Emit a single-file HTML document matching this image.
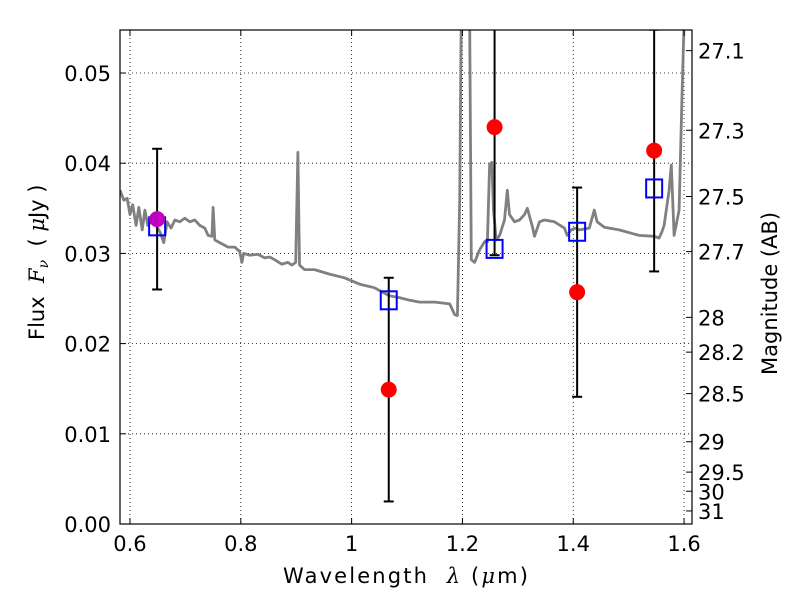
<!DOCTYPE html>
<html><head><meta charset="utf-8">
<style>
html,body{margin:0;padding:0;background:#fff;}
svg{display:block;}
text{font-family:"DejaVu Sans","Liberation Sans",sans-serif;fill:#000;}
.serif{font-family:"DejaVu Serif","Liberation Serif",serif;font-style:italic;}
</style></head>
<body>
<svg id="chart" width="800" height="600" viewBox="0 0 800 600"></svg>
<script>
const specLam = [0.582,0.589,0.595,0.600,0.605,0.611,0.616,0.622,0.627,0.632,0.640,0.647,0.654,0.661,0.667,0.674,0.681,0.690,0.699,0.708,0.717,0.726,0.735,0.741,0.748,0.750,0.753,0.762,0.777,0.789,0.798,0.802,0.805,0.816,0.831,0.843,0.852,0.861,0.874,0.885,0.892,0.899,0.903,0.906,0.915,0.933,0.960,0.987,1.014,1.041,1.068,1.086,1.105,1.123,1.150,1.177,1.186,1.191,1.195,1.198,1.204,1.213,1.216,1.222,1.231,1.240,1.245,1.249,1.253,1.256,1.261,1.267,1.276,1.281,1.285,1.294,1.303,1.312,1.317,1.326,1.330,1.339,1.348,1.366,1.384,1.389,1.396,1.404,1.411,1.429,1.438,1.443,1.456,1.483,1.519,1.546,1.555,1.560,1.564,1.573,1.577,1.582,1.591,1.596,1.602];
const specFlux = [0.0370,0.0359,0.0361,0.0343,0.0354,0.0331,0.0351,0.0326,0.0348,0.0331,0.0337,0.0331,0.0324,0.0312,0.0335,0.0328,0.0337,0.0335,0.0339,0.0335,0.0337,0.0331,0.0328,0.0320,0.0319,0.0351,0.0315,0.0312,0.0307,0.0307,0.0302,0.0290,0.0300,0.0298,0.0299,0.0295,0.0296,0.0293,0.0288,0.0290,0.0287,0.0290,0.0412,0.0287,0.0282,0.0282,0.0277,0.0273,0.0266,0.0262,0.0253,0.0251,0.0248,0.0246,0.0246,0.0244,0.0232,0.0231,0.0359,0.0570,0.0600,0.0570,0.0293,0.0290,0.0304,0.0313,0.0313,0.0398,0.0401,0.0348,0.0315,0.0320,0.0337,0.0370,0.0343,0.0335,0.0337,0.0343,0.0350,0.0330,0.0319,0.0335,0.0337,0.0335,0.0328,0.0320,0.0326,0.0328,0.0326,0.0328,0.0348,0.0335,0.0329,0.0326,0.0320,0.0319,0.0317,0.0324,0.0331,0.0370,0.0398,0.0320,0.0348,0.0470,0.0600];
const modelLam = [0.649,1.067,1.258,1.407,1.546];
const modelFlux = [0.0330,0.0248,0.0305,0.0324,0.0372];
const obsLam = [1.067,1.258,1.407,1.546];
const obsFlux = [0.0149,0.0440,0.0257,0.0414];
const obsErr = [0.0124,0.0142,0.0116,0.0134];
const refLam = [0.649];
const refFlux = [0.0338];
const refErr = [0.0078];
const xTicks = [0.6,0.8,1.0,1.2,1.4,1.6];
const xTickLabels = ["0.6","0.8","1","1.2","1.4","1.6"];
const yTicks = [0,0.01,0.02,0.03,0.04,0.05];
const yTickLabels = ["0.00","0.01","0.02","0.03","0.04","0.05"];
const magTicks = [27.1,27.3,27.5,27.7,28,28.2,28.5,29,29.5,30,31];

const L=120,R=692,T=30,B=524;
const xMin=0.582,xMax=1.6143,yMin=0,yMax=(B-T)/9020;
function X(v){return L+(v-xMin)/(xMax-xMin)*(R-L);}
function Y(v){return B-(v-yMin)/(yMax-yMin)*(B-T);}
const NS="http://www.w3.org/2000/svg";
const svg=document.getElementById('chart');
function el(tag,attrs,parent){const e=document.createElementNS(NS,tag);for(const k in attrs)e.setAttribute(k,attrs[k]);(parent||svg).appendChild(e);return e;}

const defs=el('defs',{});
const cp=el('clipPath',{id:'clip'},defs);
el('rect',{x:L,y:T,width:R-L,height:B-T},cp);

const grid=el('g',{});


xTicks.forEach(t=>{el('line',{x1:X(t),x2:X(t),y1:T,y2:B,stroke:'#000','stroke-width':0.8,'stroke-dasharray':'1,3'},grid);});
yTicks.forEach(t=>{el('line',{x1:L,x2:R,y1:Y(t),y2:Y(t),stroke:'#000','stroke-width':0.8,'stroke-dasharray':'1,3'},grid);});

const plot=el('g',{'clip-path':'url(#clip)'});
let d=specLam.map((l,i)=>(i?'L':'M')+X(l).toFixed(1)+','+Y(specFlux[i]).toFixed(1)).join(' ');
const sp=el('path',{d:d,fill:'none',stroke:'#808080','stroke-width':2.8,'stroke-linejoin':'round'},plot);



function errbar(l,f,e,name){
  const g=el('g',{},plot);
  
  
  const x=X(l),y1=Y(f+e),y2=Y(f-e);
  el('line',{x1:x,x2:x,y1:y1,y2:y2,stroke:'#000','stroke-width':2},g);
  el('line',{x1:x-5,x2:x+5,y1:y1,y2:y1,stroke:'#000','stroke-width':2},g);
  el('line',{x1:x-5,x2:x+5,y1:y2,y2:y2,stroke:'#000','stroke-width':2},g);
}
refLam.forEach((l,i)=>errbar(l,refFlux[i],refErr[i],'ref-error-bar'));
obsLam.forEach((l,i)=>errbar(l,obsFlux[i],obsErr[i],'obs-error-bar'));

modelLam.forEach((l,i)=>{
  const r=el('rect',{x:X(l)-8,y:Y(modelFlux[i])-9,width:16,height:18,fill:'none',stroke:'#0000ff','stroke-width':2},plot);
  
  
});
obsLam.forEach((l,i)=>{
  const c=el('circle',{cx:X(l),cy:Y(obsFlux[i]),r:8,fill:'#ff0000'},plot);
  
  
});
refLam.forEach((l,i)=>{
  const c=el('circle',{cx:X(l),cy:Y(refFlux[i]),r:8,fill:'#bf00bf'},plot);
  
  
});

const fr=el('rect',{x:L,y:T,width:R-L,height:B-T,fill:'none',stroke:'#000','stroke-width':1.2});



xTicks.forEach((t,i)=>{
  el('line',{x1:X(t),x2:X(t),y1:B,y2:B-6,stroke:'#000'});
  el('line',{x1:X(t),x2:X(t),y1:T,y2:T+6,stroke:'#000'});
  const tx=el('text',{x:X(t),y:B+27,'text-anchor':'middle','font-size':21});
  tx.textContent=xTickLabels[i];
  
  
});
yTicks.forEach((t,i)=>{
  el('line',{x1:L,x2:L+6,y1:Y(t),y2:Y(t),stroke:'#000'});
  const tx=el('text',{x:L-9,y:Y(t)+8,'text-anchor':'end','font-size':21});
  tx.textContent=yTickLabels[i];
  
  
});
magTicks.forEach(m=>{
  const f=Math.pow(10,(23.9-m)/2.5);
  const y=Y(f);
  el('line',{x1:R-6,x2:R,y1:y,y2:y,stroke:'#000'});
  const tx=el('text',{x:R+6,y:y+8,'font-size':21});
  tx.textContent=String(m);
  
  
});
</script>
<svg width="800" height="600" style="position:absolute;left:0;top:0;pointer-events:none">
  <text x="283" y="583" font-size="21" xml:space="preserve" textLength="245" lengthAdjust="spacing">Wavelength  <tspan class="serif">λ</tspan> (<tspan class="serif">μ</tspan>m)</text>
  <text transform="translate(44,340) rotate(-90)" font-size="21" xml:space="preserve">Flux  <tspan class="serif">F</tspan><tspan class="serif" font-size="14" dy="4">ν</tspan><tspan dy="-4">  ( </tspan><tspan class="serif">μ</tspan>Jy )</text>
  <text transform="translate(777,375) rotate(-90)" font-size="21">Magnitude (AB)</text>
</svg>
</body></html>
